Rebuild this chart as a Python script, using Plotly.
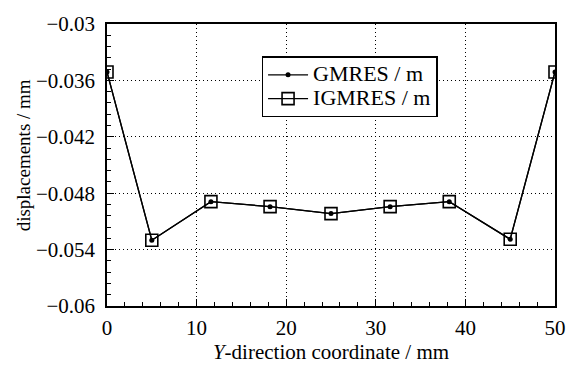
import plotly.graph_objects as go

# Data
x_coord = [0, 5, 11.6, 18.2, 25, 31.6, 38.2, 45, 50]
gmres = [-0.0351, -0.0530, -0.0489, -0.04943, -0.05017, -0.04943, -0.0489, -0.0529, -0.0351]
igmres = [-0.0351, -0.0530, -0.0489, -0.04943, -0.05017, -0.04943, -0.0489, -0.0529, -0.0351]

y_tickvals = [-0.06, -0.054, -0.048, -0.042, -0.036, -0.03]
y_ticktext = ["\u22120.06", "\u22120.054", "\u22120.048", "\u22120.042", "\u22120.036", "\u22120.03"]
x_tickvals = [0, 10, 20, 30, 40, 50]

FONT = "Liberation Serif"
LEG = '<span style="font-size:22px">%s</span>'

fig = go.Figure()
fig.add_trace(go.Scatter(
    x=x_coord, y=gmres, name=LEG % "GMRES / m", mode="lines+markers",
    line=dict(color="black", width=1.3),
    marker=dict(symbol="circle", size=5, color="black"),
))
fig.add_trace(go.Scatter(
    x=x_coord, y=igmres, name=LEG % "IGMRES / m", mode="lines+markers",
    line=dict(color="black", width=1.3),
    marker=dict(symbol="square-open", size=12, color="black", line=dict(width=1.6)),
))

axis_common = dict(
    showline=True, linecolor="black", linewidth=1.5, mirror=True,
    ticks="inside", ticklen=7, tickwidth=1.2, tickcolor="black",
    showgrid=True, gridcolor="black", griddash="1px,3px", gridwidth=1.2,
    zeroline=False,
    tickfont=dict(family=FONT, size=21, color="black"),
)

fig.update_xaxes(
    range=[0, 50], tickvals=x_tickvals, ticklabelstandoff=2,
    minor=dict(dtick=2, tick0=0, ticks="inside", ticklen=4, tickwidth=1.2, tickcolor="black", showgrid=False),
    title=dict(text="<i>Y</i>-direction coordinate / mm", font=dict(family=FONT, size=21, color="black"), standoff=2),
    **axis_common,
)
fig.update_yaxes(
    range=[-0.06, -0.03], tickvals=y_tickvals, ticktext=y_ticktext, ticklabelstandoff=6,
    minor=dict(dtick=0.0012, tick0=-0.06, ticks="inside", ticklen=4, tickwidth=1.2, tickcolor="black", showgrid=False),
    **axis_common,
)

fig.add_annotation(
    text="displacements / mm", textangle=-90,
    xref="paper", yref="paper", x=-0.187, y=0.535,
    xanchor="center", yanchor="middle", showarrow=False,
    font=dict(family=FONT, size=19, color="black"),
)

fig.update_layout(
    width=579, height=369,
    margin=dict(l=107, r=24, t=15, b=55),
    plot_bgcolor="white", paper_bgcolor="white",
    font=dict(family=FONT, size=20, color="black"),
    legend=dict(
        x=0.345, y=0.885, xanchor="left", yanchor="top",
        bgcolor="white", bordercolor="black", borderwidth=1.5,
        font=dict(family=FONT, size=16, color="black"),
        tracegroupgap=0, itemwidth=40,
    ),
    showlegend=True,
)

fig.write_html("out.html")
